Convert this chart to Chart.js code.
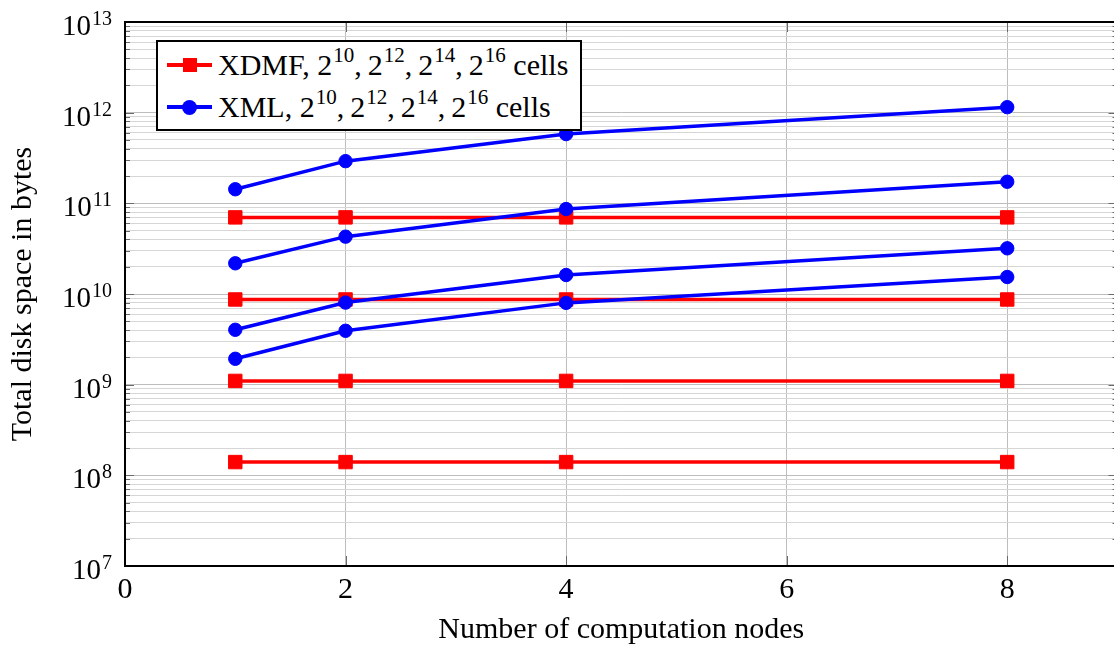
<!DOCTYPE html>
<html>
<head>
<meta charset="utf-8">
<title>Disk space vs computation nodes</title>
<script src="https://cdn.jsdelivr.net/npm/chart.js@4.4.1/dist/chart.umd.min.js"></script>
<style>
  html, body { margin: 0; padding: 0; background: #fff; overflow: hidden; }
  #wrap { position: relative; width: 1128px; height: 648px; }
  #legend {
    position: absolute; left: 156px; top: 40px;
    width: 422px; height: 85px; padding-top: 2px; box-sizing: content-box;
    border: 2px solid #000; background: #fff;
    font-family: 'Liberation Serif', 'Times New Roman', serif; font-size: 30px; color: #000;
  }
  #legend .row { display: flex; align-items: center; height: 42px; white-space: nowrap; }
  #legend .sample { position: relative; flex: none; width: 45px; height: 4px; margin: 0 6px 0 9px; }
  #legend .sample::after { content: ''; position: absolute; left: 50%; top: 50%; }
  #legend .red   { background: #ff0000; }
  #legend .red::after  { width: 14px; height: 14px; margin: -7px 0 0 -7px; background: #ff0000; }
  #legend .blue  { background: #0000ff; }
  #legend .blue::after { width: 15px; height: 15px; margin: -7.5px 0 0 -7.5px; background: #0000ff; border-radius: 50%; }
  #legend sup { font-size: 0.7em; position: relative; top: -0.5em; vertical-align: baseline; line-height: 0; margin-left: 1px; }
</style>
</head>
<body>
<div id="wrap">
  <canvas id="chart" width="1128" height="648"></canvas>
  <div id="legend">
    <div class="row"><span class="sample red"></span>XDMF, 2<sup>10</sup>,&thinsp;2<sup>12</sup>,&thinsp;2<sup>14</sup>,&thinsp;2<sup>16</sup>&nbsp;cells</div>
    <div class="row"><span class="sample blue"></span>XML, 2<sup>10</sup>,&thinsp;2<sup>12</sup>,&thinsp;2<sup>14</sup>,&thinsp;2<sup>16</sup>&nbsp;cells</div>
  </div>
</div>
<script>
'use strict';

// ---------------------------------------------------------------------------
// Data
// ---------------------------------------------------------------------------

const nodes = [1, 2, 4, 8];

// XDMF: one flat line per mesh size
const xdmf2_10 = [1.4e8, 1.4e8, 1.4e8, 1.4e8];
const xdmf2_12 = [1.1e9, 1.1e9, 1.1e9, 1.1e9];
const xdmf2_14 = [8.7e9, 8.7e9, 8.7e9, 8.7e9];
const xdmf2_16 = [7.0e10, 7.0e10, 7.0e10, 7.0e10];

// XML: grows with the node count
const xml2_10 = [1.93e9, 3.93e9, 7.98e9, 1.54e10];
const xml2_12 = [4.03e9, 8.04e9, 1.62e10, 3.19e10];
const xml2_14 = [2.18e10, 4.29e10, 8.65e10, 1.73e11];
const xml2_16 = [1.43e11, 2.92e11, 5.80e11, 1.15e12];

// Axis ticks
const xTicks         = [0, 2, 4, 6, 8];
const decadeExps     = [7, 8, 9, 10, 11, 12, 13];
const minorMantissas = [2, 3, 4, 5, 6, 7, 8, 9];

// ---------------------------------------------------------------------------
// Styling helpers
// ---------------------------------------------------------------------------

const FONT      = "'Liberation Serif', 'Times New Roman', serif";
const RED       = '#ff0000';
const BLUE      = '#0000ff';
const GRID_MAJ  = '#bdbdbd';
const GRID_MIN  = '#d6d6d6';
const TICK_COL  = '#6a6a6a';

function isDecade(v) {
  const l = Math.log10(v);
  return Math.abs(l - Math.round(l)) < 1e-9;
}

function points(ys) { return nodes.map((x, i) => ({ x, y: ys[i] })); }

function xdmfSet(ys) {
  return {
    data: points(ys),
    borderColor: RED, backgroundColor: RED, borderWidth: 3.5,
    pointStyle: 'rect', pointRadius: 9.5, pointBorderWidth: 1,
    pointBackgroundColor: RED, pointBorderColor: RED,
    order: 2,
  };
}

function xmlSet(ys) {
  return {
    data: points(ys),
    borderColor: BLUE, backgroundColor: BLUE, borderWidth: 3.5,
    pointStyle: 'circle', pointRadius: 6.7, pointBorderWidth: 1,
    pointBackgroundColor: BLUE, pointBorderColor: BLUE,
    order: 1,
  };
}

// ---------------------------------------------------------------------------
// Plugins: inward ticks, frame, superscript y labels
// ---------------------------------------------------------------------------

const ticksPlugin = {
  id: 'innerTicks',
  beforeDatasetsDraw(chart) {
    const { ctx, chartArea: a, scales: { x, y } } = chart;
    ctx.save();
    ctx.strokeStyle = TICK_COL;
    ctx.lineWidth = 1;
    ctx.beginPath();
    y.ticks.forEach(t => {
      const py = Math.round(y.getPixelForValue(t.value)) + 0.5;
      const len = isDecade(t.value) ? 9 : 5;
      ctx.moveTo(a.left, py);  ctx.lineTo(a.left + len, py);
      ctx.moveTo(a.right, py); ctx.lineTo(a.right - len, py);
    });
    xTicks.forEach(v => {
      const px = Math.round(x.getPixelForValue(v)) + 0.5;
      ctx.moveTo(px, a.bottom); ctx.lineTo(px, a.bottom - 10);
      ctx.moveTo(px, a.top);    ctx.lineTo(px, a.top + 10);
    });
    ctx.stroke();
    ctx.restore();
  },
  afterDraw(chart) {
    const { ctx, chartArea: a, scales: { y } } = chart;
    ctx.save();
    ctx.strokeStyle = '#000';
    ctx.lineWidth = 2;
    ctx.strokeRect(a.left, a.top, a.right - a.left, a.bottom - a.top);

    // y labels as 10^n with a raised exponent
    ctx.fillStyle = '#000';
    ctx.textAlign = 'right';
    ctx.textBaseline = 'alphabetic';
    decadeExps.forEach(e => {
      const py = y.getPixelForValue(Math.pow(10, e));
      const exp = String(e);
      ctx.font = `20px ${FONT}`;
      const w = ctx.measureText(exp).width;
      ctx.fillText(exp, 112, py + 3);
      ctx.font = `29px ${FONT}`;
      ctx.fillText('10', 111 - w, py + 13);
    });
    ctx.restore();
  },
};

// ---------------------------------------------------------------------------
// Chart
// ---------------------------------------------------------------------------

const chart = new Chart(document.getElementById('chart').getContext('2d'), {
  type: 'line',
  data: {
    datasets: [
      xdmfSet(xdmf2_10), xdmfSet(xdmf2_12), xdmfSet(xdmf2_14), xdmfSet(xdmf2_16),
      xmlSet(xml2_10),   xmlSet(xml2_12),   xmlSet(xml2_14),   xmlSet(xml2_16),
    ],
  },
  options: {
    responsive: false,
    animation: false,
    events: [],
    layout: { padding: { top: 22, right: 3, left: 0, bottom: 0 } },
    plugins: { legend: { display: false }, tooltip: { enabled: false } },
    scales: {
      x: {
        type: 'linear',
        min: 0, max: 9,
        afterBuildTicks: s => { s.ticks = xTicks.map(v => ({ value: v })); },
        afterFit: s => { s.height = 82; },
        grid:   { color: GRID_MAJ, lineWidth: 1, drawTicks: false },
        border: { color: '#000', width: 2 },
        ticks:  { color: '#000', padding: 6, maxRotation: 0, font: { family: FONT, size: 30 } },
        title:  {
          display: true, text: 'Number of computation nodes', color: '#000',
          padding: { top: 1, bottom: 0 }, font: { family: FONT, size: 30 },
        },
      },
      y: {
        type: 'logarithmic',
        min: 1e7, max: 1e13,
        afterBuildTicks: s => {
          const t = [];
          decadeExps.forEach(e => {
            t.push({ value: Math.pow(10, e) });
            if (e < decadeExps[decadeExps.length - 1]) {
              minorMantissas.forEach(m => t.push({ value: m * Math.pow(10, e) }));
            }
          });
          s.ticks = t;
        },
        afterFit: s => { s.width = 125; },
        grid:   {
          color: c => (c.tick && isDecade(c.tick.value) ? GRID_MAJ : GRID_MIN),
          lineWidth: 1, drawTicks: false,
        },
        border: { color: '#000', width: 2 },
        ticks:  { display: false, autoSkip: false },
        title:  {
          display: true, text: 'Total disk space in bytes', color: '#000',
          padding: { top: 5, bottom: 0 }, font: { family: FONT, size: 30 },
        },
      },
    },
  },
  plugins: [ticksPlugin],
});
</script>
</body>
</html>
